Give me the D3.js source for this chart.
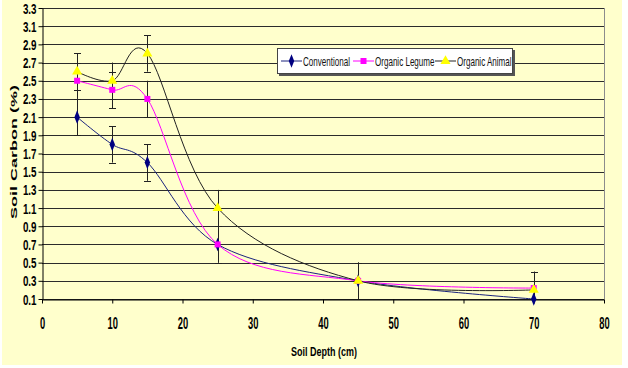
<!DOCTYPE html>
<html>
<head>
<meta charset="utf-8">
<script src="https://cdn.jsdelivr.net/npm/d3@7"></script>
<style>
  body { margin: 0; background: #fff; }
  text { font-family: "Liberation Sans", Arial, sans-serif; }
</style>
</head>
<body>
<script>
// data
const depth = [5, 10, 15, 25, 45, 70];
const conventional = [2.1, 1.8, 1.6, 0.7, 0.3, 0.1];
const legume = [2.5, 2.4, 2.3, 0.7, 0.3, 0.22];
const animal = [2.6, 2.5, 2.8, 1.1, 0.3, 0.2];
const errConventional = [0.2, 0.2, 0.2, 0.2, 0.2, 0.2];
const errLegume = [0.2, 0.2, 0.2, 0.2, 0.2, 0.18];
const errAnimal = [0.2, 0.2, 0.2, 0.2, 0.2, 0.2];
const seriesNames = ['Conventional', 'Organic Legume', 'Organic Animal'];
const xTicks = [0, 10, 20, 30, 40, 50, 60, 70, 80];
const yTicks = [0.1, 0.3, 0.5, 0.7, 0.9, 1.1, 1.3, 1.5, 1.7, 1.9, 2.1, 2.3, 2.5, 2.7, 2.9, 3.1, 3.3];

let w = 628,
  h = 368,
  mLeft = 42,
  mRight = 604,
  mTop = 8,
  mBottom = 299;

const series = [
  { name: seriesNames[0], values: conventional, err: errConventional, line: '#1a237e', fill: '#000080', symbol: d3.symbolDiamond, size: 40 },
  { name: seriesNames[1], values: legume, err: errLegume, line: '#ff00ff', fill: '#ff00ff', symbol: d3.symbolSquare, size: 36 },
  { name: seriesNames[2], values: animal, err: errAnimal, line: '#222', fill: '#ffff00', symbol: d3.symbolTriangle, size: 44 }
];

let x = d3.scaleLinear().domain([0, 80]).range([mLeft, mRight]);
let y = d3.scaleLinear().domain([0.1, 3.3]).range([mBottom, mTop]);

let svg = d3.select('body').append('svg')
  .attr('width', w)
  .attr('height', h);

svg.append('rect')
  .attr('x', 2).attr('y', 0)
  .attr('width', 620).attr('height', 365)
  .attr('fill', '#ffffcc');

svg.append('defs').append('clipPath').attr('id', 'plot')
  .append('rect')
  .attr('x', mLeft).attr('y', mTop)
  .attr('width', mRight - mLeft).attr('height', mBottom - mTop);

// gridlines
svg.append('g')
  .selectAll('line')
  .data(yTicks)
  .enter()
  .append('line')
  .attr('x1', mLeft).attr('x2', mRight)
  .attr('y1', d => Math.round(y(d)) + 0.5)
  .attr('y2', d => Math.round(y(d)) + 0.5)
  .attr('stroke', '#2b2b2b');

svg.append('line')
  .attr('x1', mRight + 0.5).attr('x2', mRight + 0.5)
  .attr('y1', mTop).attr('y2', mBottom)
  .attr('stroke', '#8c8c8c');

// axes
const xAxis = svg.append('g')
  .attr('transform', `translate(0,${Math.round(mBottom) + 0.5})`)
  .call(d3.axisBottom(x).tickValues(xTicks).tickSize(4).tickSizeOuter(0));

const yAxis = svg.append('g')
  .attr('transform', `translate(${mLeft + 0.5},0)`)
  .call(d3.axisLeft(y).tickValues(yTicks).tickSize(4).tickSizeOuter(0).tickFormat(d3.format('.1f')));

[xAxis, yAxis].forEach(g => {
  g.select('.domain').attr('stroke', '#000');
  g.selectAll('.tick line').attr('stroke', '#000');
});

xAxis.selectAll('.tick text')
  .attr('font-size', 17)
  .attr('font-weight', 'bold')
  .attr('fill', '#000')
  .attr('y', 0)
  .attr('dy', 0)
  .attr('transform', 'translate(0,29) scale(0.55,1)');

yAxis.selectAll('.tick text')
  .attr('font-size', 14)
  .attr('font-weight', 'bold')
  .attr('fill', '#000')
  .attr('x', 0)
  .attr('dy', '0.36em')
  .attr('transform', 'translate(-6,0) scale(0.7,1)');

// error bars
const bars = svg.append('g').attr('clip-path', 'url(#plot)');
series.forEach(s => {
  s.values.forEach((v, i) => {
    const cx = Math.round(x(depth[i])) + 0.5;
    bars.append('line')
      .attr('x1', cx).attr('x2', cx)
      .attr('y1', y(v - s.err[i])).attr('y2', y(v + s.err[i]))
      .attr('stroke', '#222');
    [v - s.err[i], v + s.err[i]].forEach(e => {
      bars.append('line')
        .attr('x1', cx - 3.5).attr('x2', cx + 3.5)
        .attr('y1', Math.round(y(e)) + 0.5).attr('y2', Math.round(y(e)) + 0.5)
        .attr('stroke', '#222');
    });
  });
});

// smoothed lines
const line = d3.line()
  .x((d, i) => x(depth[i]))
  .y(d => y(d))
  .curve(d3.curveCardinal.tension(0));

series.forEach(s => {
  svg.append('path')
    .attr('d', line(s.values))
    .attr('fill', 'none')
    .attr('stroke', s.line)
    .attr('stroke-width', 1);
});

series.forEach(s => {
  svg.append('g')
    .selectAll('path')
    .data(s.values)
    .enter()
    .append('path')
    .attr('d', d3.symbol().type(s.symbol).size(s.size))
    .attr('transform', (d, i) => `translate(${x(depth[i])},${y(d)})` + (s.symbol === d3.symbolDiamond ? ' scale(0.8,1.15)' : ''))
    .attr('fill', s.fill);
});

// legend
const lg = svg.append('g');
lg.append('rect')
  .attr('x', 279).attr('y', 50)
  .attr('width', 236).attr('height', 26)
  .attr('fill', '#555');
lg.append('rect')
  .attr('x', 277.5).attr('y', 48.5)
  .attr('width', 235).attr('height', 25)
  .attr('fill', '#fff')
  .attr('stroke', '#444');

const legendX = [281, 353, 435];
series.forEach((s, i) => {
  const g = lg.append('g').attr('transform', `translate(${legendX[i]},61)`);
  g.append('line')
    .attr('x1', 0).attr('x2', 21)
    .attr('stroke', s.line);
  g.append('path')
    .attr('d', d3.symbol().type(s.symbol).size(s.size))
    .attr('transform', 'translate(10.5,0)' + (s.symbol === d3.symbolDiamond ? ' scale(0.8,1.15)' : ''))
    .attr('fill', s.fill);
  g.append('text')
    .attr('transform', 'translate(22,0) scale(0.62,1)')
    .attr('dy', '0.36em')
    .attr('font-size', 13)
    .attr('fill', '#111')
    .text(s.name);
});

// axis titles
svg.append('text')
  .attr('transform', 'translate(324,352) scale(0.75,1)')
  .attr('text-anchor', 'middle')
  .attr('dy', '0.36em')
  .attr('font-size', 12)
  .attr('font-weight', 'bold')
  .text('Soil Depth (cm)');

svg.append('text')
  .attr('transform', 'translate(14,152) rotate(-90) scale(1,0.52)')
  .attr('text-anchor', 'middle')
  .attr('dy', '0.36em')
  .attr('font-size', 18)
  .attr('font-weight', 'bold')
  .text('Soil Carbon (%)');
</script>
</body>
</html>
